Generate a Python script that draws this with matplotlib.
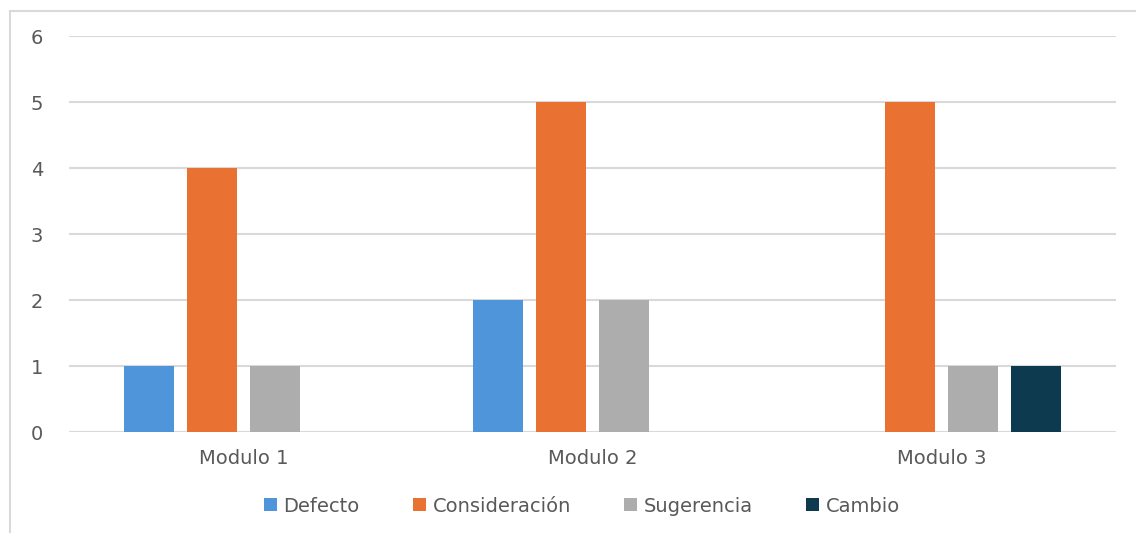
import matplotlib
matplotlib.use("Agg")
import matplotlib.pyplot as plt
import numpy as np
from matplotlib.patches import Rectangle

categories = ["Modulo 1", "Modulo 2", "Modulo 3"]
series_names = ["Defecto", "Consideración", "Sugerencia", "Cambio"]
defecto = [1, 2, 0]
consideracion = [4, 5, 5]
sugerencia = [1, 2, 1]
cambio = [0, 0, 1]
yticks = [0, 1, 2, 3, 4, 5, 6]

values = [defecto, consideracion, sugerencia, cambio]
colors = ["#4E95D9", "#E97132", "#ADADAD", "#0E3A4F"]

plt.rcParams['font.family'] = ['DejaVu Sans']

W, H = 1136, 533
fig = plt.figure(figsize=(W / 100, H / 100), dpi=100)
ax = fig.add_axes([69 / W, 1 - 432 / H, (1116 - 69) / W, (432 - 36) / H])

x = np.arange(len(categories))
step = 0.18
width = 0.143
for i, (name, vals, c) in enumerate(zip(series_names, values, colors)):
    ax.bar(x + (i - 1.5) * step, vals, width=width, color=c, label=name, zorder=3)

ax.set_xlim(-0.5, 2.5)
ax.set_ylim(0, 6)
ax.set_yticks(yticks)
ax.set_xticks(x)
ax.set_xticklabels(categories)
ax.grid(axis='y', color='#D9D9D9', linewidth=1.5, zorder=0)
ax.set_axisbelow(True)
for s in ax.spines.values():
    s.set_visible(False)
ax.tick_params(axis='x', length=0, colors='#595959', labelsize=14, pad=12)
ax.tick_params(axis='y', length=0, colors='#595959', labelsize=14, pad=18.5)

leg = fig.legend(loc='center', bbox_to_anchor=(582 / W, 1 - 506 / H), ncol=4,
                 frameon=False, fontsize=14, handlelength=0.65, handleheight=0.65,
                 handletextpad=0.35, columnspacing=2.75, labelcolor='#595959')

fig.patches.append(Rectangle((10 / W, -0.1), 1.2, 1 - 11 / H + 0.1, transform=fig.transFigure,
                             fill=False, edgecolor='#D9D9D9', linewidth=1.5))

fig.savefig("out.png", dpi=100)
